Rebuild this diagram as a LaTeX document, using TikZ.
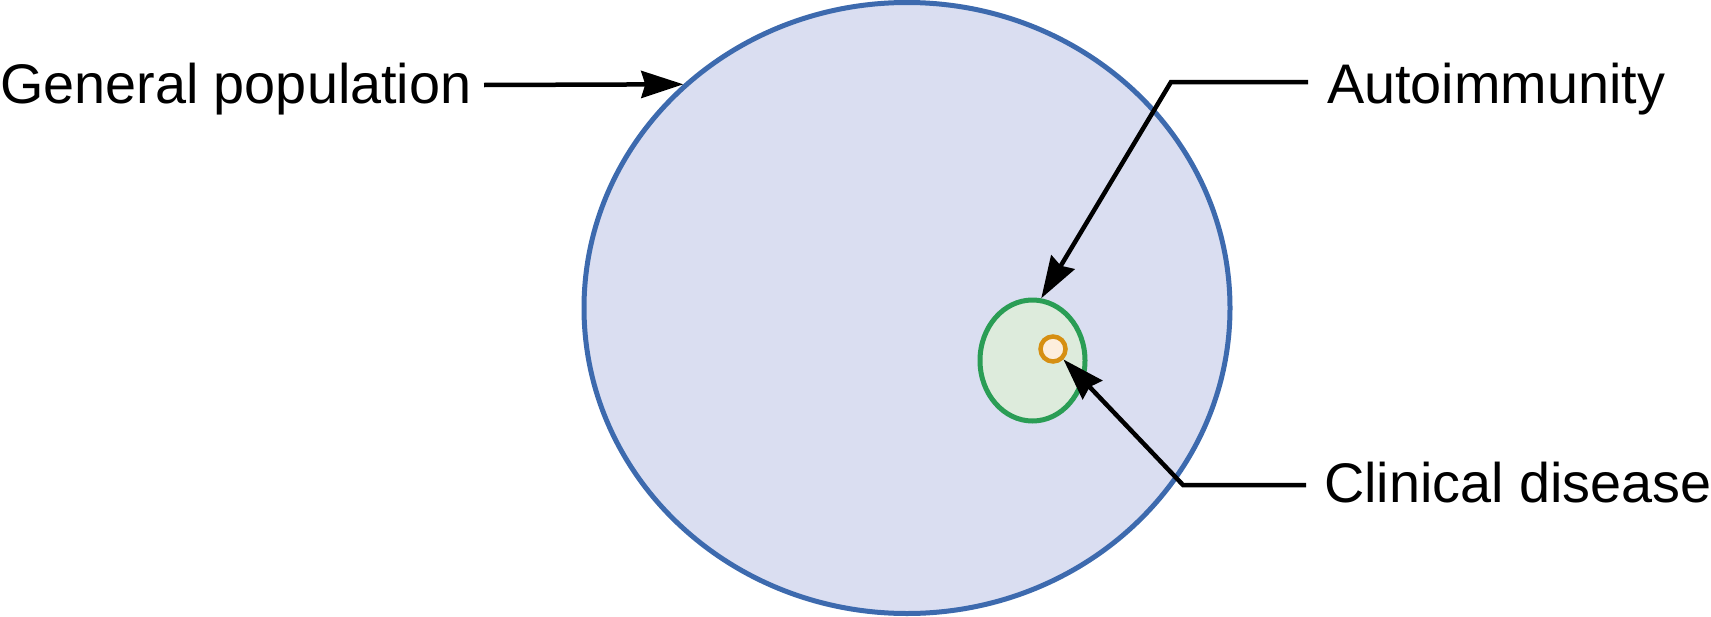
\documentclass[tikz,border=0pt]{standalone}
\usepackage{fontspec}
\setmainfont{Liberation Sans}
\usetikzlibrary{shapes.geometric,arrows.meta}
\definecolor{popline}{HTML}{3D6AAE}
\definecolor{popfill}{HTML}{DADEF1}
\definecolor{autoline}{HTML}{2A9D55}
\definecolor{autofill}{HTML}{DDEBDC}
\definecolor{disline}{HTML}{D68F12}
\definecolor{disfill}{HTML}{FDEEDD}
\tikzset{
  lbl/.style={inner sep=0pt, outer sep=0pt, font=\fontsize{55.8}{60}\selectfont, anchor=base west},
  leader/.style={line width=4.5pt, black, -{Stealth[length=42pt,width=27pt,inset=4pt]}},
  popshape/.style={ellipse, draw=popline, fill=popfill, line width=5pt, inner sep=0pt},
  autoshape/.style={ellipse, draw=autoline, fill=autofill, line width=5pt, inner sep=0pt},
  disshape/.style={circle, draw=disline, fill=disfill, line width=4.5pt, inner sep=0pt}
}
\begin{document}
\begin{tikzpicture}[x=1pt,y=-1pt]
\useasboundingbox (0,0) rectangle (1711,616);
\node[popshape, minimum width=646pt, minimum height=611pt] (pop) at (907,308) {};
\node[autoshape, minimum width=105pt, minimum height=121pt] (auto) at (1032.5,360.5) {};
\node[disshape, minimum size=25pt] (dis) at (1053,349) {};
\node[lbl] (gp) at (0,103) {General population};
\node[lbl] (ai) at (1327,103) {Autoimmunity};
\node[lbl] (cd) at (1324,502) {Clinical disease};
\coordinate (gpS) at (484,85);
\coordinate (aiS) at (1308,82);
\coordinate (aiB) at (1171,82);
\coordinate (cdS) at (1306,485);
\coordinate (cdB) at (1183,485);
\draw[leader] (gpS) -- (pop.135);
\draw[leader] (aiS) -- (aiB) -- (auto.82);
\draw[leader] (cdS) -- (cdB) -- (dis.-45);
\end{tikzpicture}
\end{document}
